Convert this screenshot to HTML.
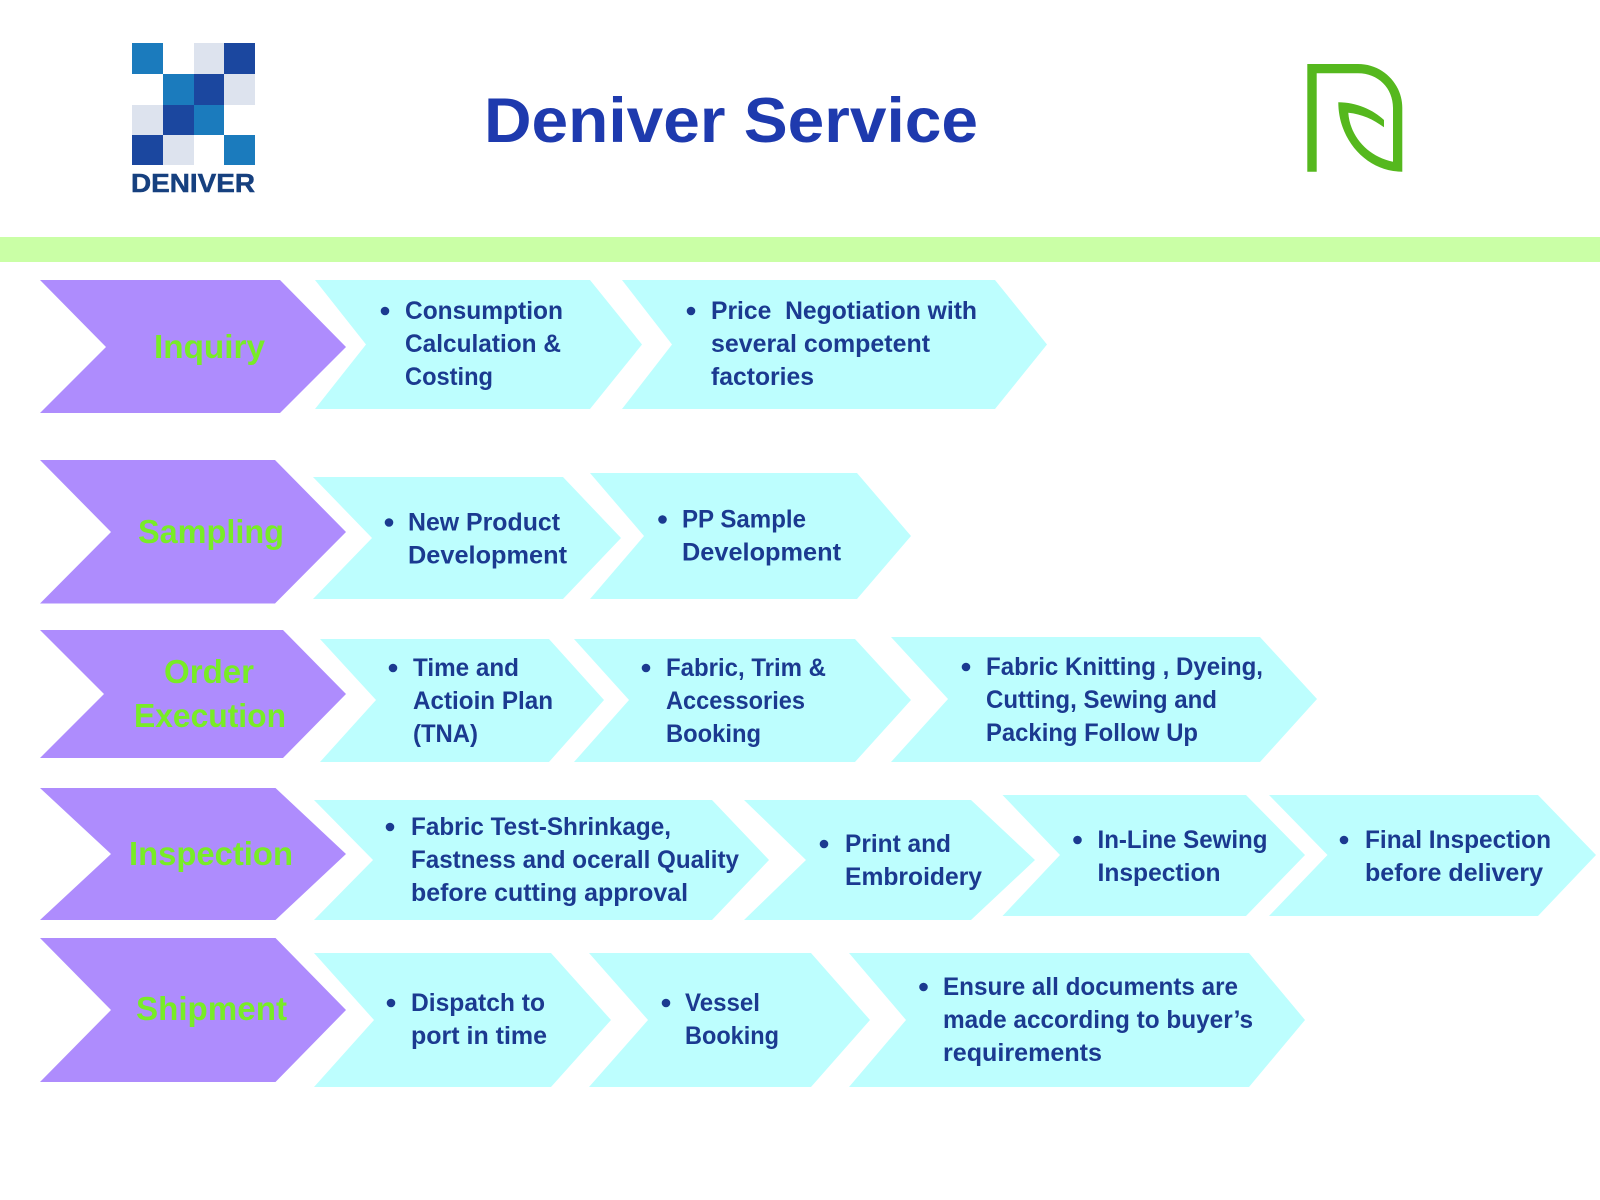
<!DOCTYPE html>
<html><head><meta charset="utf-8"><title>Deniver Service</title>
<style>
html,body{margin:0;padding:0;background:#fff;width:1600px;height:1200px;overflow:hidden}
svg{display:block}
text{font-family:"Liberation Sans",sans-serif;font-weight:700}
.t{font-size:25px;fill:#1b3a90}
.g{font-size:33px;fill:#78ec26;text-anchor:start}
.p{fill:#ae8cfd}
.c{fill:#bdfefe}
.b{fill:#1b3a90}
</style></head><body>
<svg xmlns="http://www.w3.org/2000/svg" width="1600" height="1200" viewBox="0 0 1600 1200">
<rect width="1600" height="1200" fill="#fff"/>
<!-- logo -->
<g>
<rect x="132" y="43" width="31" height="31" fill="#1b7bbd"/><rect x="194" y="43" width="30" height="31" fill="#dde3ee"/><rect x="224" y="43" width="31" height="31" fill="#1b479f"/>
<rect x="163" y="74" width="31" height="31" fill="#1b7bbd"/><rect x="194" y="74" width="30" height="31" fill="#1b479f"/><rect x="224" y="74" width="31" height="31" fill="#dde3ee"/>
<rect x="132" y="105" width="31" height="30" fill="#dde3ee"/><rect x="163" y="105" width="31" height="30" fill="#1b479f"/><rect x="194" y="105" width="30" height="30" fill="#1b7bbd"/>
<rect x="132" y="135" width="31" height="30" fill="#1b479f"/><rect x="163" y="135" width="31" height="30" fill="#dde3ee"/><rect x="224" y="135" width="31" height="30" fill="#1b7bbd"/>
<text x="131" y="192" font-size="26" fill="#16407f" stroke="#16407f" stroke-width="0.5" textLength="124" lengthAdjust="spacingAndGlyphs">DENIVER</text>
</g>
<text x="484" y="142" font-size="63" fill="#1e3aae" textLength="494" lengthAdjust="spacingAndGlyphs">Deniver Service</text>
<path fill="#55b81e" d="M1307.3 171.7V64H1358C1383 64 1402.3 84 1402.3 108V171.7C1366.7 171.7 1338.3 140 1338.3 102.3C1356.7 102.3 1373.3 110 1384 120V127.3C1373.3 119.3 1361.7 114 1348.3 112.7C1350 136.7 1368 156.7 1393 161.7V108C1393 88 1378 73.3 1358 73.3H1316.7V171.7Z"/>
<rect x="0" y="237" width="1600" height="25" fill="#caffa6"/>

<!-- row 1 -->
<polygon class="p" points="40,280 280,280 346,347 280,413 40,413 106,347"/>
<polygon class="c" points="315,280 590,280 642,344.5 590,409 315,409 366,344.5"/>
<polygon class="c" points="622,280 995,280 1047,344.5 995,409 622,409 672,344.5"/>
<text class="g" x="154" y="358" textLength="111" lengthAdjust="spacingAndGlyphs">Inquiry</text>
<circle class="b" cx="385" cy="311" r="4.3"/>
<text class="t" x="405" y="319" textLength="158" lengthAdjust="spacingAndGlyphs">Consumption</text>
<text class="t" x="405" y="352" textLength="156" lengthAdjust="spacingAndGlyphs">Calculation &amp;</text>
<text class="t" x="405" y="385" textLength="88" lengthAdjust="spacingAndGlyphs">Costing</text>
<circle class="b" cx="691" cy="311" r="4.3"/>
<text class="t" x="711" y="319" textLength="266" lengthAdjust="spacingAndGlyphs" xml:space="preserve">Price  Negotiation with</text>
<text class="t" x="711" y="352" textLength="219" lengthAdjust="spacingAndGlyphs">several competent</text>
<text class="t" x="711" y="385" textLength="103" lengthAdjust="spacingAndGlyphs">factories</text>

<!-- row 2 -->
<polygon class="p" points="40,460 275,460 346,532 275,603.5 40,603.5 111,532"/>
<polygon class="c" points="313,477 563,477 621,538 563,599 313,599 372,538"/>
<polygon class="c" points="590,473 857,473 911,536 857,599 590,599 644,536"/>
<text class="g" x="138" y="543" textLength="146" lengthAdjust="spacingAndGlyphs">Sampling</text>
<circle class="b" cx="389" cy="522.5" r="4.3"/>
<text class="t" x="408" y="530.5" textLength="152" lengthAdjust="spacingAndGlyphs">New Product</text>
<text class="t" x="408" y="563.5" textLength="159" lengthAdjust="spacingAndGlyphs">Development</text>
<circle class="b" cx="662.5" cy="519.5" r="4.3"/>
<text class="t" x="682" y="527.5" textLength="124" lengthAdjust="spacingAndGlyphs">PP Sample</text>
<text class="t" x="682" y="560.5" textLength="159" lengthAdjust="spacingAndGlyphs">Development</text>

<!-- row 3 -->
<polygon class="p" points="40,630 283,630 346,694 283,758 40,758 104,694"/>
<polygon class="c" points="320,639 549,639 604,700 549,762 320,762 376,700"/>
<polygon class="c" points="574,639 855,639 911,700 855,762 574,762 629,700"/>
<polygon class="c" points="891,637 1260,637 1317,699 1260,762 891,762 948,699"/>
<text class="g" x="164" y="683" textLength="90" lengthAdjust="spacingAndGlyphs">Order</text>
<text class="g" x="134" y="727" textLength="152" lengthAdjust="spacingAndGlyphs">Execution</text>
<circle class="b" cx="393" cy="668" r="4.3"/>
<text class="t" x="413" y="676" textLength="106" lengthAdjust="spacingAndGlyphs">Time and</text>
<text class="t" x="413" y="709" textLength="140" lengthAdjust="spacingAndGlyphs">Actioin Plan</text>
<text class="t" x="413" y="742" textLength="65" lengthAdjust="spacingAndGlyphs">(TNA)</text>
<circle class="b" cx="646" cy="668" r="4.3"/>
<text class="t" x="666" y="676" textLength="160" lengthAdjust="spacingAndGlyphs">Fabric, Trim &amp;</text>
<text class="t" x="666" y="709" textLength="139" lengthAdjust="spacingAndGlyphs">Accessories</text>
<text class="t" x="666" y="742" textLength="95" lengthAdjust="spacingAndGlyphs">Booking</text>
<circle class="b" cx="966" cy="667" r="4.3"/>
<text class="t" x="986" y="675" textLength="277" lengthAdjust="spacingAndGlyphs">Fabric Knitting , Dyeing,</text>
<text class="t" x="986" y="708" textLength="231" lengthAdjust="spacingAndGlyphs">Cutting, Sewing and</text>
<text class="t" x="986" y="741" textLength="212" lengthAdjust="spacingAndGlyphs">Packing Follow Up</text>

<!-- row 4 -->
<polygon class="p" points="40,788 275.5,788 346,854 275.5,920 40,920 111,854"/>
<polygon class="c" points="314,800 712,800 769,860 712,920 314,920 373,860"/>
<polygon class="c" points="744,800 971,800 1035,860 971,920 744,920 806,860"/>
<polygon class="c" points="1002.5,795 1246,795 1305,855 1246,916 1002.5,916 1060,855"/>
<polygon class="c" points="1269,795 1538,795 1596,855 1538,916 1269,916 1327.5,855"/>
<text class="g" x="129" y="865" textLength="164" lengthAdjust="spacingAndGlyphs">Inspection</text>
<circle class="b" cx="390" cy="827" r="4.3"/>
<text class="t" x="411" y="835" textLength="260" lengthAdjust="spacingAndGlyphs">Fabric Test-Shrinkage,</text>
<text class="t" x="411" y="868" textLength="328" lengthAdjust="spacingAndGlyphs">Fastness and ocerall Quality</text>
<text class="t" x="411" y="901" textLength="277" lengthAdjust="spacingAndGlyphs">before cutting approval</text>
<circle class="b" cx="824" cy="844" r="4.3"/>
<text class="t" x="845" y="852" textLength="106" lengthAdjust="spacingAndGlyphs">Print and</text>
<text class="t" x="845" y="885" textLength="137" lengthAdjust="spacingAndGlyphs">Embroidery</text>
<circle class="b" cx="1077.5" cy="840" r="4.3"/>
<text class="t" x="1097.5" y="848" textLength="170" lengthAdjust="spacingAndGlyphs">In-Line Sewing</text>
<text class="t" x="1097.5" y="881" textLength="123" lengthAdjust="spacingAndGlyphs">Inspection</text>
<circle class="b" cx="1344" cy="840" r="4.3"/>
<text class="t" x="1365" y="848" textLength="186" lengthAdjust="spacingAndGlyphs">Final Inspection</text>
<text class="t" x="1365" y="881" textLength="178" lengthAdjust="spacingAndGlyphs">before delivery</text>

<!-- row 5 -->
<polygon class="p" points="40,938 275.5,938 346,1010 275.5,1082 40,1082 111,1010"/>
<polygon class="c" points="314,953 551,953 611,1020 551,1087 314,1087 374,1020"/>
<polygon class="c" points="589,953 811,953 870,1020 811,1087 589,1087 648,1020"/>
<polygon class="c" points="849,953 1249,953 1305,1020 1249,1087 849,1087 906,1020"/>
<text class="g" x="136" y="1020" textLength="151" lengthAdjust="spacingAndGlyphs">Shipment</text>
<circle class="b" cx="391" cy="1003" r="4.3"/>
<text class="t" x="411" y="1011" textLength="134" lengthAdjust="spacingAndGlyphs">Dispatch to</text>
<text class="t" x="411" y="1044" textLength="136" lengthAdjust="spacingAndGlyphs">port in time</text>
<circle class="b" cx="666" cy="1003" r="4.3"/>
<text class="t" x="685" y="1011" textLength="75" lengthAdjust="spacingAndGlyphs">Vessel</text>
<text class="t" x="685" y="1044" textLength="94" lengthAdjust="spacingAndGlyphs">Booking</text>
<circle class="b" cx="923.5" cy="987" r="4.3"/>
<text class="t" x="943" y="995" textLength="295" lengthAdjust="spacingAndGlyphs">Ensure all documents are</text>
<text class="t" x="943" y="1028" textLength="310" lengthAdjust="spacingAndGlyphs">made according to buyer’s</text>
<text class="t" x="943" y="1061" textLength="159" lengthAdjust="spacingAndGlyphs">requirements</text>
</svg>
</body></html>
